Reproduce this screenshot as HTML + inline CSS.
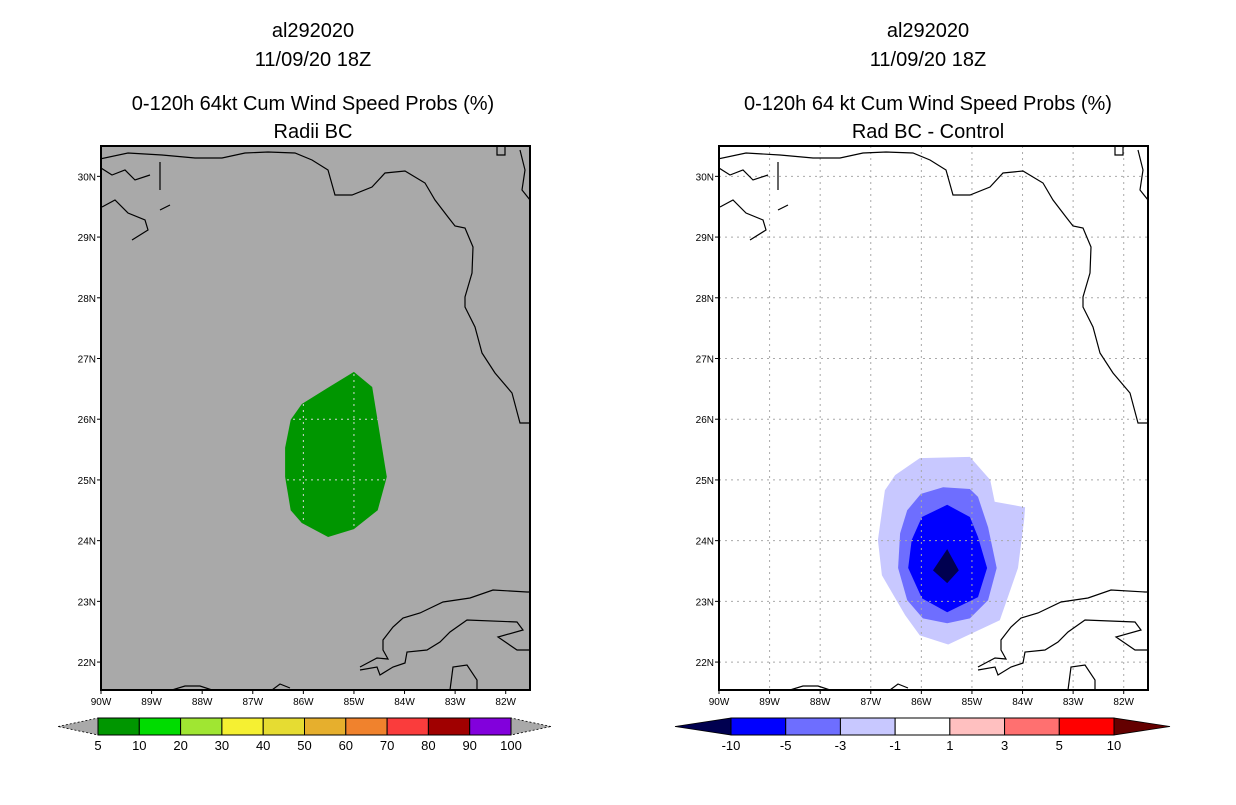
<!DOCTYPE html>
<html><head><meta charset="utf-8"><style>
body{margin:0;background:#fff;width:1236px;height:800px;overflow:hidden}
svg{font-family:"Liberation Sans",sans-serif}
</style></head><body>
<svg id="s" width="1236" height="800" viewBox="0 0 1236 800">
<g id="titles" font-size="20" text-anchor="middle" fill="#000">
<text x="313" y="37">al292020</text>
<text x="313" y="66">11/09/20 18Z</text>
<text x="313" y="110">0-120h 64kt Cum Wind Speed Probs (%)</text>
<text x="313" y="138">Radii BC</text>
<text x="928" y="37">al292020</text>
<text x="928" y="66">11/09/20 18Z</text>
<text x="928" y="110">0-120h 64 kt Cum Wind Speed Probs (%)</text>
<text x="928" y="138">Rad BC - Control</text>
</g>
</svg>
<script>
const NS="http://www.w3.org/2000/svg";
const svg=document.getElementById('s');
// data
const lonTicks=[-90,-89,-88,-87,-86,-85,-84,-83,-82];
const latTicks=[22,23,24,25,26,27,28,29,30];
const probLon=[-85.0,-84.64,-84.35,-84.53,-85.0,-85.51,-86.03,-86.25,-86.36,-86.36,-86.25,-86.03,-85.51];
const probLat=[26.78,26.53,25.05,24.5,24.19,24.06,24.29,24.5,25.05,25.53,25.99,26.25,26.52];
const diffM1Lon=[-86.03,-85.04,-84.64,-84.55,-83.95,-83.97,-84.09,-84.45,-85.47,-86.03,-86.32,-86.78,-86.86,-86.72,-86.52];
const diffM1Lat=[25.36,25.38,25.0,24.64,24.55,24.34,23.55,22.69,22.29,22.44,22.77,23.43,24.01,24.83,25.08];
const diffM3Lon=[-86.01,-85.57,-85.04,-84.88,-84.68,-84.51,-84.68,-85.04,-85.49,-85.97,-86.28,-86.46,-86.42,-86.28];
const diffM3Lat=[24.77,24.88,24.85,24.72,24.22,23.55,23.02,22.72,22.64,22.72,23.02,23.55,24.12,24.5];
const diffM5Lon=[-85.49,-85.04,-84.88,-84.70,-84.88,-85.49,-85.99,-86.26,-86.19,-85.99];
const diffM5Lat=[24.59,24.39,24.06,23.55,23.07,22.82,23.05,23.55,24.01,24.39];
const diffM10Lon=[-85.49,-85.26,-85.49,-85.77];
const diffM10Lat=[23.86,23.51,23.30,23.51];
const leftLevels=["5","10","20","30","40","50","60","70","80","90","100"];
const leftColors=["#009600","#00dc00","#a0e632","#f5f032","#e6dc32","#e6af2d","#f0822d","#fa3c3c","#a00000","#8200dc"];
const rightLevels=["-10","-5","-3","-1","1","3","5","10"];
const rightColors=["#0000ff","#6e6eff","#c8c8ff","#ffffff","#ffc0c0","#ff7070","#ff0000"];

const X0=-90,X1=-81.52,Y0=30.5,Y1=21.54,W=429,H=544,TOP=146;
function xs(ox,lon){return ox+(lon-X0)/(X1-X0)*W;}
function ys(lat){return TOP+(Y0-lat)/(Y0-Y1)*H;}
function el(t,a,p){const e=document.createElementNS(NS,t);for(const k in a)e.setAttribute(k,a[k]);(p||svg).appendChild(e);return e;}
const coast="M95,160 L128,153 L162,155 L195,158 L222,158 L245,153 L268,152 L295,153 L312,160 L328,170 L335,195 L352,195 L372,187 L385,173 L405,171 L425,183 L435,200 L448,217 L455,226 L465,228 L473,247 L472,273 L465,297 L465,307 L475,327 L482,353 L495,373 L512,393 L520,423 L530,423 M102,207 L115,200 L128,213 L145,220 L148,230 L132,240 M101,168 L112,175 L125,170 L135,180 L150,175 M160,162 L160,190 M170,205 L160,210 M520,150 L525,170 L522,190 L530,200 M497,147 L497,155 L505,155 L505,147 M360,667 L377,658 L388,659 L383,650 L383,640 L393,627 L403,618 L420,613 L443,602 L470,598 L493,590 L527,592 L531,592 M531,650 L517,650 L498,637 L523,630 L517,622 L467,620 L450,632 L440,642 L427,650 L407,652 L405,663 L393,667 L380,675 L377,667 L360,670 M450,690 L453,667 L467,665 L477,680 L477,690 M172,690 L185,686 L200,686 L212,690 M272,690 L280,684 L290,688";
function ptsOf(ox,lons,lats){return lons.map((l,i)=>xs(ox,l).toFixed(1)+','+ys(lats[i]).toFixed(1)).join(' ');}
function poly(ox,lons,lats,fill,name){
  const g=el('polygon',{points:ptsOf(ox,lons,lats),fill:fill});
  
  
}
function map(ox,bg,grid,side){
  const cid='clip'+side;
  const cp=el('clipPath',{id:cid});el('rect',{x:ox,y:TOP,width:W,height:H},cp);
  const r=el('rect',{x:ox,y:TOP,width:W,height:H,fill:bg});
  
  
  let gridClip='url(#'+cid+')';
  if(side==='left'){
    poly(ox,probLon,probLat,'#009600','prob-region-5-10');
    const gc=el('clipPath',{id:'gclipleft'});el('polygon',{points:ptsOf(ox,probLon,probLat)},gc);
    gridClip='url(#gclipleft)';
  }
  else{
    poly(ox,diffM1Lon,diffM1Lat,'#c8c8ff','diff-region-minus1');
    poly(ox,diffM3Lon,diffM3Lat,'#6e6eff','diff-region-minus3');
    poly(ox,diffM5Lon,diffM5Lat,'#0000ff','diff-region-minus5');
    poly(ox,diffM10Lon,diffM10Lat,'#000050','diff-region-minus10');
  }
  const gg=el('g',{stroke:grid,'stroke-width':1,'stroke-dasharray':'2,4','clip-path':gridClip});
  
  
  lonTicks.forEach(l=>{if(l>X0)el('line',{x1:xs(ox,l),x2:xs(ox,l),y1:TOP,y2:TOP+H},gg);});
  latTicks.forEach(l=>el('line',{x1:ox,x2:ox+W,y1:ys(l),y2:ys(l)},gg));
  const cg=el('g',{'clip-path':'url(#'+cid+')'});
  const c=el('path',{d:coast,fill:'none',stroke:'#000','stroke-width':1.2,transform:'translate('+(ox-101)+',0)'},cg);
  
  
  const f=el('rect',{x:ox,y:TOP,width:W,height:H,fill:'none',stroke:'#000','stroke-width':2});
  
  
  lonTicks.forEach(l=>{
    const x=xs(ox,l);
    el('line',{x1:x,x2:x,y1:TOP+H,y2:TOP+H+4,stroke:'#000'});
    const t=el('text',{x:x,y:TOP+H+15,'font-size':10,'text-anchor':'middle'});t.textContent=(-l)+'W';
    
    
  });
  latTicks.forEach(l=>{
    const y=ys(l);
    el('line',{x1:ox-4,x2:ox,y1:y,y2:y,stroke:'#000'});
    const t=el('text',{x:ox-5,y:y+4,'font-size':10,'text-anchor':'end'});t.textContent=l+'N';
    
    
  });
}
map(101,'#a9a9a9','#d8d8d8','left');
map(719,'#ffffff','#a9a9a9','right');
function colorbar(x0,x1,colors,levels,lc,rc,tw,name){
  const g=el('g',{});
  
  
  const y=718,h=17,w=(x1-x0)/colors.length;
  el('polygon',{points:(x0-tw)+','+(y+h/2)+' '+x0+','+y+' '+x0+','+(y+h),fill:lc,stroke:'#000','stroke-width':0.8,'stroke-dasharray':lc==='#a9a9a9'?'2,2':''},g);
  el('polygon',{points:(x1+tw)+','+(y+h/2)+' '+x1+','+y+' '+x1+','+(y+h),fill:rc,stroke:'#000','stroke-width':0.8,'stroke-dasharray':rc==='#a9a9a9'?'2,2':''},g);
  colors.forEach((c,i)=>el('rect',{x:x0+i*w,y:y,width:w,height:h,fill:c,stroke:'#000','stroke-width':1},g));
  levels.forEach((l,i)=>{const t=el('text',{x:x0+i*w,y:750,'font-size':13,'text-anchor':'middle'},g);t.textContent=l;});
}
colorbar(98,511,leftColors,leftLevels,'#a9a9a9','#a9a9a9',40,'left-colorbar');
colorbar(731,1114,rightColors,rightLevels,'#000050','#640000',56,'right-colorbar');
</script>
</body></html>
